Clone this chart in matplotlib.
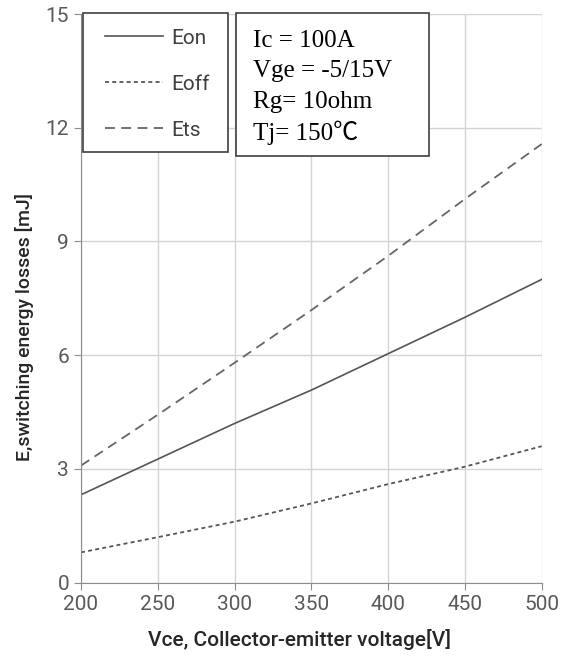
import matplotlib
matplotlib.use("Agg")
import matplotlib.pyplot as plt
from matplotlib.patches import Rectangle

# data
vce = [200, 250, 300, 350, 400, 450, 500]
eon = [2.32, 3.26, 4.20, 5.08, 6.04, 7.00, 8.00]
eoff = [0.80, 1.20, 1.61, 2.09, 2.60, 3.06, 3.60]
ets = [3.09, 4.43, 5.80, 7.19, 8.62, 10.12, 11.57]
xticks = [200, 250, 300, 350, 400, 450, 500]
yticks = [0, 3, 6, 9, 12, 15]
conditions = ["Ic = 100A", "Vge = -5/15V", "Rg= 10ohm", "Tj= 150\u2103"]

W, H = 573, 659
fig = plt.figure(figsize=(W / 100, H / 100), dpi=100)
ax = fig.add_axes([81 / W, 1 - 582.7 / H, (541.7 - 81) / W, (582.7 - 14) / H])

l1, = ax.plot(vce, eon, color="#555555", lw=1.2, ls="-")
l2, = ax.plot(vce, eoff, color="#555555", lw=1.3, ls=(0, (2.2, 1.8)))
l3, = ax.plot(vce, ets, color="#666666", lw=1.3, ls=(0, (5.5, 3.5)))

ax.set_xlim(200, 500)
ax.set_ylim(0, 15)
ax.set_xticks(xticks)
ax.set_yticks(yticks)
ax.grid(True, color="#d4d4d4", lw=1.0)
ax.set_axisbelow(True)
for s in ["top", "right"]:
    ax.spines[s].set_visible(False)
for s in ["left", "bottom"]:
    ax.spines[s].set_color("#8c8c8c")
ax.tick_params(colors="#8c8c8c", length=5, labelcolor="#595959", labelsize=15)
for t in ax.get_xticklabels() + ax.get_yticklabels():
    t.set_family("Roboto")

fig.text(300 / W, 1 - 640 / H, "Vce, Collector-emitter voltage[V]", ha="center", va="center",
         fontsize=15, fontweight="medium", color="#262626", family="Roboto")
fig.text(25 / W, 1 - 327 / H, "E,switching energy losses [mJ]", ha="center", va="center",
         rotation=90, fontsize=14, fontweight="medium", color="#262626", family="Roboto")

# legend box
fig.patches.append(Rectangle((83.3 / W, 1 - 152 / H), (227.7 - 83.3) / W, (152 - 13.3) / H,
                             transform=fig.transFigure, fill=True, facecolor="white",
                             edgecolor="#404040", lw=1.2, zorder=3))
leg = fig.legend([l1, l2, l3], ["Eon", "Eoff", "Ets"], loc="upper left",
                 bbox_to_anchor=(90 / W, 1 - 14 / H), bbox_transform=fig.transFigure,
                 frameon=False, handlelength=2.8, handletextpad=0.4,
                 labelspacing=1.3, borderpad=0.2, prop={"family": "Roboto", "size": 15})
for t in leg.get_texts():
    t.set_color("#404040")
leg.set_zorder(4)

# conditions box
fig.patches.append(Rectangle((235.7 / W, 1 - 156 / H), (428.7 - 235.7) / W, (156 - 13) / H,
                             transform=fig.transFigure, fill=True, facecolor="white",
                             edgecolor="#404040", lw=1.2, zorder=3))
for i, s in enumerate(conditions):
    fig.text(253 / W, 1 - (41 + 30.5 * i) / H, s, ha="left", va="center", fontsize=18,
             color="black", family=["Liberation Serif", "Noto Sans CJK SC"], zorder=4)

fig.savefig("out.png", dpi=100)
